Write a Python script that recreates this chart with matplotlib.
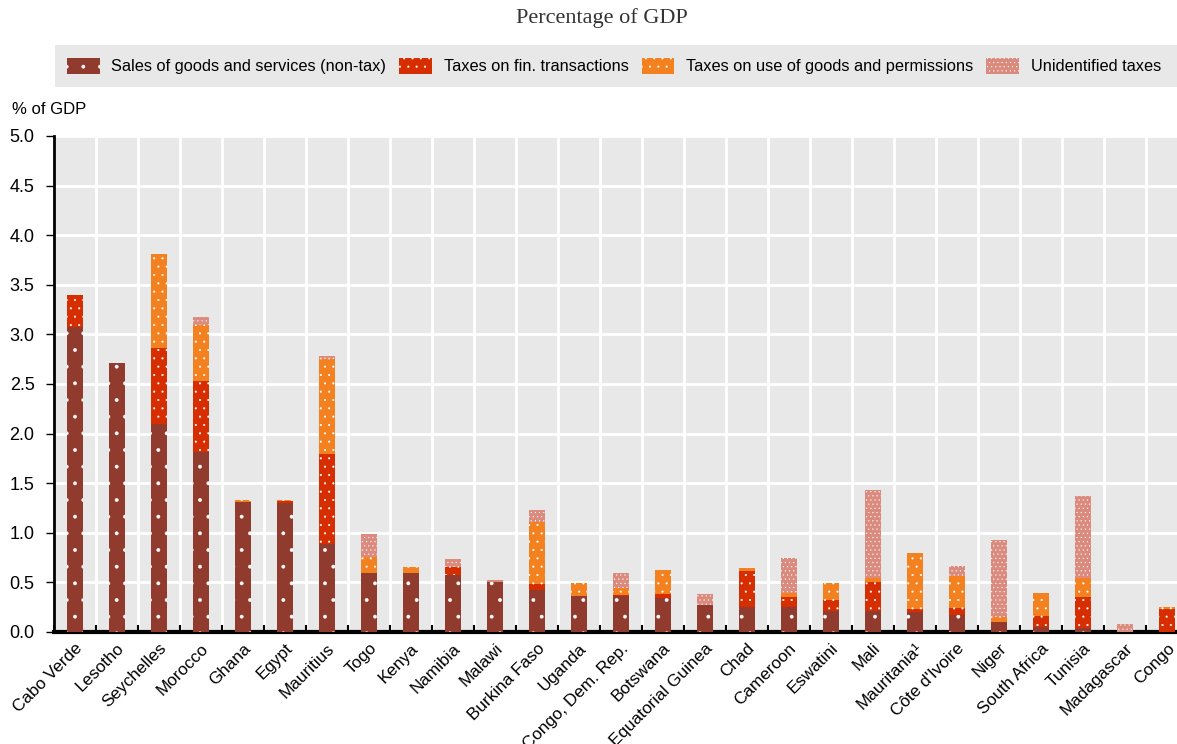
import numpy as np
import matplotlib
matplotlib.use("Agg")
import matplotlib.pyplot as plt
from matplotlib.patches import Rectangle

countries = ["Cabo Verde", "Lesotho", "Seychelles", "Morocco", "Ghana", "Egypt",
             "Mauritius", "Togo", "Kenya", "Namibia", "Malawi", "Burkina Faso",
             "Uganda", "Congo, Dem. Rep.", "Botswana", "Equatorial Guinea", "Chad",
             "Cameroon", "Eswatini", "Mali", "Mauritania\u00b9", "C\u00f4te d'Ivoire",
             "Niger", "South Africa", "Tunisia", "Madagascar", "Congo"]

sales = [3.07, 2.71, 2.10, 1.81, 1.31, 1.30, 0.89, 0.59, 0.595, 0.575, 0.505, 0.42,
         0.36, 0.36, 0.34, 0.27, 0.25, 0.25, 0.215, 0.215, 0.205, 0.17, 0.10, 0.05,
         0.045, 0.0, 0.0]
fin = [0.33, 0.0, 0.76, 0.72, 0.0, 0.02, 0.90, 0.0, 0.0, 0.085, 0.0, 0.06,
       0.0, 0.015, 0.04, 0.0, 0.365, 0.10, 0.11, 0.285, 0.027, 0.075, 0.0, 0.11,
       0.31, 0.0, 0.235]
use = [0.0, 0.0, 0.95, 0.56, 0.02, 0.015, 0.96, 0.17, 0.065, 0.0, 0.0, 0.63,
       0.135, 0.07, 0.245, 0.0, 0.035, 0.04, 0.165, 0.04, 0.56, 0.32, 0.05, 0.23,
       0.19, 0.0, 0.015]
unid = [0.0, 0.0, 0.0, 0.09, 0.0, 0.0, 0.03, 0.23, 0.0, 0.075, 0.015, 0.12,
        0.0, 0.145, 0.0, 0.11, 0.0, 0.355, 0.0, 0.89, 0.0, 0.10, 0.78, 0.0,
        0.83, 0.08, 0.0]

series = [
    ("Sales of goods and services (non-tax)", sales, "#913B2F", "."),
    ("Taxes on fin. transactions", fin, "#D62E00", ".."),
    ("Taxes on use of goods and permissions", use, "#F4811F", ".."),
    ("Unidentified taxes", unid, "#DB8A7E", "...."),
]

plt.rcParams["font.family"] = ["Liberation Sans", "DejaVu Sans"]
plt.rcParams["hatch.linewidth"] = 0.3
bg = "#E8E8E8"

fig = plt.figure(figsize=(11.77, 7.44), dpi=100)
ax = fig.add_axes([54 / 1177, (744 - 632) / 744, (1188 - 54) / 1177, (632 - 136) / 744])
ax.set_facecolor(bg)

x = np.arange(len(countries))
bottom = np.zeros(len(countries))
for name, vals, col, hatch in series:
    vals = np.array(vals)
    ax.bar(x, vals, 0.4, bottom=bottom, color=col, hatch=hatch,
           edgecolor="white", linewidth=0, label=name, zorder=3)
    bottom += vals

ax.set_xlim(-0.5, len(countries) - 0.5)
ax.set_ylim(0, 5)
ax.set_yticks(np.arange(0, 5.01, 0.5))
ax.set_yticklabels([f"{v:.1f}" for v in np.arange(0, 5.01, 0.5)], fontsize=13)
# labels sit slightly right of the bar centre in the original
ax.set_xticks(x + 0.12)
ax.set_xticklabels(countries, rotation=45, ha="right", va="center",
                   rotation_mode="anchor", fontsize=12.3)
ax.set_xticks(np.arange(-0.5, len(countries), 1), minor=True)
ax.tick_params(axis="x", which="major", length=0, pad=10)
ax.tick_params(axis="x", which="minor", direction="in", length=5, width=1.5)
ax.tick_params(axis="y", direction="out", length=6, width=1, pad=8)

ax.grid(axis="y", color="white", linewidth=2, zorder=0)
ax.grid(axis="x", which="minor", color="white", linewidth=2, zorder=0)
ax.set_axisbelow(True)
for s in ["top", "right"]:
    ax.spines[s].set_visible(False)
ax.spines["bottom"].set_linewidth(3)
ax.spines["left"].set_linewidth(2)

fig.text(12 / 1177, 1 - 110 / 744, "% of GDP", fontsize=12, ha="left", va="center")
fig.text(602 / 1177, 1 - 18 / 744, "Percentage of GDP", fontsize=16,
         family=["Liberation Serif", "DejaVu Serif"], ha="center", va="center",
         color="#333333")

fig.patches.append(Rectangle((55 / 1177, 1 - 87 / 744), (1177 - 55) / 1177, 42 / 744,
                             transform=fig.transFigure, facecolor=bg, edgecolor="none",
                             zorder=0))
fig.legend(loc="center", bbox_to_anchor=(614 / 1177, 1 - 66 / 744), ncol=4,
           frameon=False, fontsize=11.8, handlelength=2.0, handleheight=1.1,
           handletextpad=0.7, columnspacing=0.8)

fig.savefig("out.png", dpi=100)
